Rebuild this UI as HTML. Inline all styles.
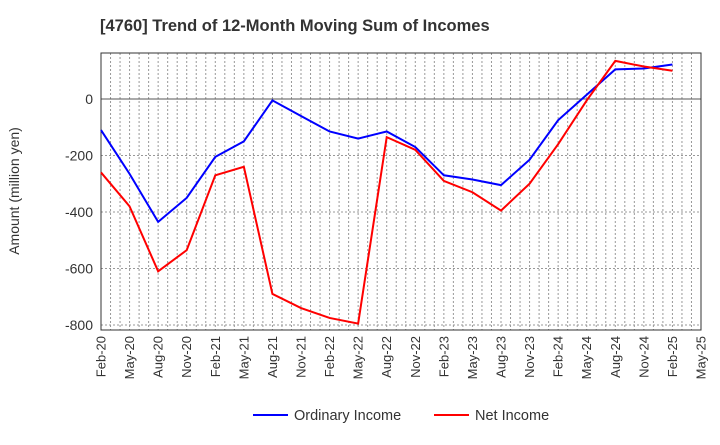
<!DOCTYPE html>
<html><head><meta charset="utf-8"><style>
body{margin:0;background:#fff;font-family:"Liberation Sans",sans-serif}
</style></head><body>
<svg width="720" height="440" id="c">
<text x="100" y="31" font-size="16.5" font-weight="bold" fill="#333">[4760]  Trend of 12-Month Moving Sum of Incomes</text>
<text transform="translate(19,191) rotate(-90)" text-anchor="middle" font-size="14" fill="#333">Amount (million yen)</text>
</svg>
<script>
const xLabels=["Feb-20","May-20","Aug-20","Nov-20","Feb-21","May-21","Aug-21","Nov-21","Feb-22","May-22","Aug-22","Nov-22","Feb-23","May-23","Aug-23","Nov-23","Feb-24","May-24","Aug-24","Nov-24","Feb-25","May-25"];
const yTicks=[0,-200,-400,-600,-800];
const ordinary=[-110,-265,-435,-350,-205,-150,-5,-60,-115,-140,-115,-170,-270,-285,-305,-215,-75,15,105,108,122];
const net=[-260,-380,-610,-535,-270,-240,-690,-740,-775,-795,-135,-180,-290,-330,-395,-300,-160,-5,135,115,100];
const L=101,R=701,T=53,B=330;
const x=i=>L+i*(R-L)/(xLabels.length-1);
const y=v=>99-v*(325-99)/800;
const s=document.getElementById('c'),NS="http://www.w3.org/2000/svg";
function add(t,a,txt){const e=document.createElementNS(NS,t);for(const k in a)e.setAttribute(k,a[k]);if(txt!==undefined)e.textContent=txt;s.appendChild(e);return e;}
for(let m=1;m<63;m++){const xx=L+m*(R-L)/63;const g=add('line',{x1:xx,x2:xx,y1:T,y2:B,stroke:'#999','stroke-dasharray':'2,2','stroke-width':1});

}
yTicks.forEach(v=>{const g=add('line',{x1:L,x2:R,y1:y(v),y2:y(v),stroke:v==0?'#555':'#999','stroke-dasharray':v==0?'none':'2,2','stroke-width':1});


const t=add('text',{x:L-8,y:y(v)+5,'text-anchor':'end','font-size':14,fill:'#333'},v);

});
const f=add('rect',{x:L,y:T,width:R-L,height:B-T,fill:'none',stroke:'#333','stroke-width':1});


xLabels.forEach((l,i)=>{const t=add('text',{transform:`translate(${x(i)+4.5},${B+6}) rotate(-90)`,'text-anchor':'end','font-size':13,fill:'#333'},l);

});
function line(d,c,n){const p=add('polyline',{points:d.map((v,i)=>x(i)+','+y(v)).join(' '),fill:'none',stroke:c,'stroke-width':2});

}
line(ordinary,'#0000ff','ordinary-income-line');
line(net,'#ff0000','net-income-line');
[[253,'#0000ff','Ordinary Income','legend-ordinary-income'],[434,'#ff0000','Net Income','legend-net-income']].forEach(([lx,c,t,n])=>{
const l=add('line',{x1:lx,x2:lx+35,y1:415,y2:415,stroke:c,'stroke-width':2});


const tx=add('text',{x:lx+41,y:420,'font-size':14.5,fill:'#333'},t);

});
</script>
</body></html>
